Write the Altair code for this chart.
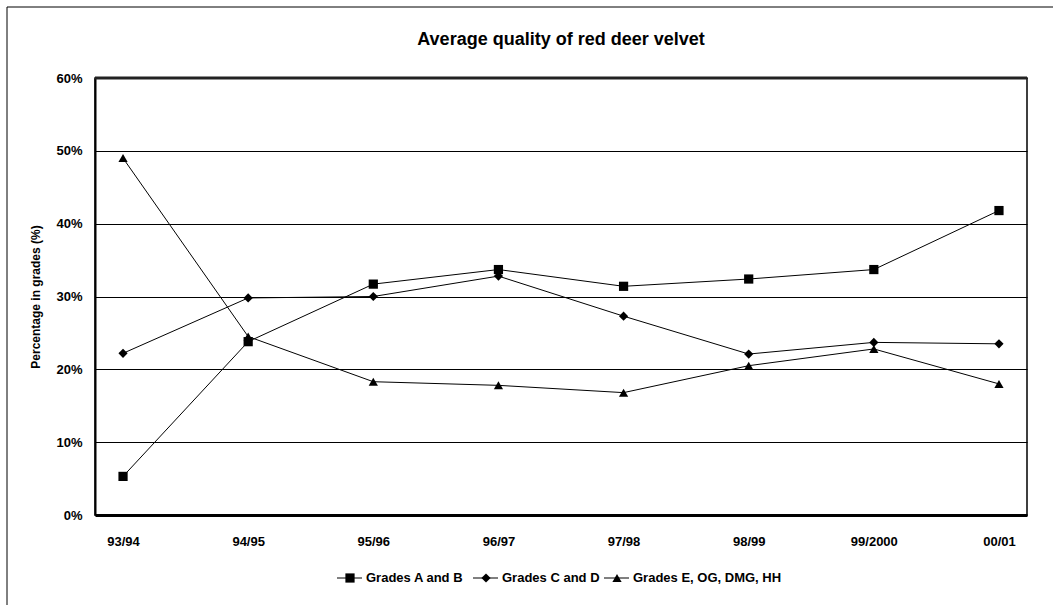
import altair as alt
import pandas as pd

# Seasons on the category axis
seasons = ["93/94", "94/95", "95/96", "96/97", "97/98", "98/99", "99/2000", "00/01"]

# Series names
series_names = ["Grades A and B", "Grades C and D", "Grades E, OG, DMG, HH"]

# Percentage of velvet in each grade group, per season
grades_ab = [5.3, 23.8, 31.7, 33.7, 31.4, 32.4, 33.7, 41.8]
grades_cd = [22.2, 29.8, 30.0, 32.8, 27.3, 22.1, 23.7, 23.5]
grades_e = [49.0, 24.5, 18.3, 17.8, 16.8, 20.5, 22.8, 18.0]

y_ticks = [0, 10, 20, 30, 40, 50, 60]

chart_title = "Average quality of red deer velvet"

rows = []
for name, vals in zip(series_names, [grades_ab, grades_cd, grades_e]):
    for s, v in zip(seasons, vals):
        rows.append({"season": s, "series": name, "pct": v})
df = pd.DataFrame(rows)

W, H = 932, 437
FONT = "Liberation Sans"

x = alt.X(
    "season:N",
    sort=seasons,
    scale=alt.Scale(type="point", padding=0.224),
    axis=alt.Axis(
        title=None, labelAngle=0, labelFontWeight="bold", labelFontSize=13,
        labelPadding=20, ticks=False, domainColor="black", domainWidth=3,
        grid=False, labelColor="black", labelFont=FONT,
    ),
)
y = alt.Y(
    "pct:Q",
    scale=alt.Scale(domain=[0, 60], nice=False, zero=True),
    axis=alt.Axis(
        title="Percentage in grades (%)", values=y_ticks,
        labelExpr="datum.value + '%'", labelFontWeight="bold", labelFontSize=13,
        labelPadding=13, ticks=False, domainColor="black", domainWidth=2,
        gridColor="black", gridWidth=1, gridOpacity=1, labelColor="black",
        labelFont=FONT, titleFont=FONT, titleFontSize=12, titleFontWeight="bold",
        titleColor="black", titlePadding=13,
    ),
)

shape_scale = alt.Scale(domain=series_names, range=["square", "diamond", "triangle-up"])

base = alt.Chart(df)

lines = base.mark_line(color="black", strokeWidth=1).encode(
    x=x, y=y, detail="series:N"
)
points = base.mark_point(filled=True, color="black", opacity=1, size=85).encode(
    x=x, y=y, shape=alt.Shape("series:N", scale=shape_scale, legend=None)
)

one = pd.DataFrame({"title": [chart_title]})

# Heavier top edge of the plot frame
top_edge = alt.Chart(one).mark_rule(color="#222222", strokeWidth=3).encode(
    x=alt.value(0), x2=alt.value(W), y=alt.value(0)
)

# Outer chart frame
frame = alt.Chart(one).mark_rect(fillOpacity=0, stroke="black", strokeWidth=1).encode(
    x=alt.value(-88), x2=alt.value(W + 120), y=alt.value(-71), y2=alt.value(H + 200)
)

# Chart heading, centred over the plot
heading = alt.Chart(one).mark_text(
    align="center", baseline="middle", font=FONT, fontSize=18, fontWeight="bold", color="black"
).encode(x=alt.value(W / 2), y=alt.value(-38), text="title:N")

# Hand-built legend below the plot: line sample with marker, then label
legend_centers = [255, 391, 522]
leg = pd.DataFrame({
    "series": series_names,
    "cx": legend_centers,
    "lx1": [c - 13 for c in legend_centers],
    "lx2": [c + 12 for c in legend_centers],
    "tx": [c + 16 for c in legend_centers],
    "ly": [H + 63] * 3,
})
leg_base = alt.Chart(leg)
leg_lines = leg_base.mark_rule(color="black", strokeWidth=1).encode(
    x=alt.X("lx1:Q", scale=None, axis=None),
    x2="lx2:Q",
    y=alt.Y("ly:Q", scale=None, axis=None),
)
leg_marks = leg_base.mark_point(filled=True, color="black", opacity=1, size=85).encode(
    x=alt.X("cx:Q", scale=None, axis=None),
    y=alt.Y("ly:Q", scale=None, axis=None),
    shape=alt.Shape("series:N", scale=shape_scale, legend=None),
)
leg_text = leg_base.mark_text(
    align="left", baseline="middle", font=FONT, fontSize=13, fontWeight="bold", color="black"
).encode(
    x=alt.X("tx:Q", scale=None, axis=None),
    y=alt.Y("ly:Q", scale=None, axis=None),
    text="series:N",
)

chart = alt.layer(
    frame, lines, points, top_edge, heading, leg_lines, leg_marks, leg_text
).properties(
    width=W,
    height=H,
    autosize=alt.AutoSizeParams(type="none"),
    padding={"left": 95, "top": 78, "right": 26, "bottom": 90},
).configure_view(stroke="black", strokeWidth=1.5)

chart.save("out.html", embed_options={"renderer": "svg", "actions": False})
